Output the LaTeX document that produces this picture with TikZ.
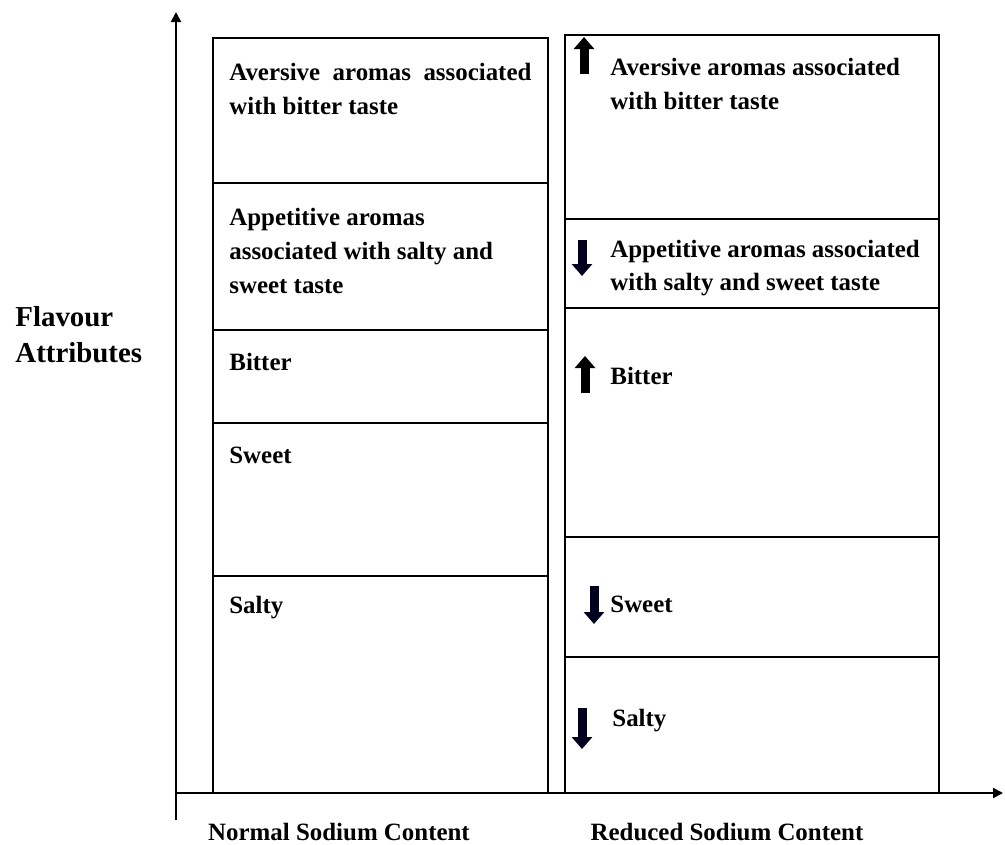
\documentclass[tikz,border=0pt]{standalone}
\usepackage{fontspec}
\setmainfont{Liberation Serif}
\usepackage{tikz}
\usetikzlibrary{arrows.meta,positioning,fit}

\begin{document}
\begin{tikzpicture}[
    x=0.5bp, y=-0.5bp,
    font=\fontsize{12.5}{17}\selectfont\bfseries,
    cell/.style={draw, line width=1.2bp, inner sep=0pt},
    label/.style={align=left, inner sep=0pt, anchor=west},
    axis/.style={line width=1bp, -{Triangle[length=5bp, width=5bp]}},
    rise/.style={line width=4.5bp, -{Triangle[length=6bp, width=10bp]}, black},
    fall/.style={line width=4.5bp, -{Triangle[length=6bp, width=10bp]}, black!70!blue!40!black}
  ]
    \useasboundingbox (0,0) rectangle (1005,845);

    \coordinate (ybot) at (176,820);
    \coordinate (ytop) at (176,12);
    \coordinate (origin) at (176,793);
    \coordinate (xend) at (1003,793);
    \draw[axis] (ybot) -- (ytop);
    \draw[axis] (origin) -- (xend);

    \node[cell, fit={(213,38)(548,183)}] (nAversive) {};
    \node[cell, fit={(213,183)(548,330)}] (nAppetitive) {};
    \node[cell, fit={(213,330)(548,423)}] (nBitter) {};
    \node[cell, fit={(213,423)(548,576)}] (nSweet) {};
    \node[cell, fit={(213,576)(548,793)}] (nSalty) {};

    \node[cell, fit={(565,35)(939,219)}] (rAversive) {};
    \node[cell, fit={(565,219)(939,308)}] (rAppetitive) {};
    \node[cell, fit={(565,308)(939,537)}] (rBitter) {};
    \node[cell, fit={(565,537)(939,657)}] (rSweet) {};
    \node[cell, fit={(565,657)(939,793)}] (rSalty) {};

    \node[label] (tnAversive) at (229,89) {Aversive\ \ aromas\ \ associated\\with bitter taste};
    \node[label] (tnAppetitive) at (229,251) {Appetitive aromas\\associated with salty and\\sweet taste};
    \node[label] (tnBitter) at (229,362) {Bitter};
    \node[label] (tnSweet) at (229,455) {Sweet};
    \node[label] (tnSalty) at (229,608) {Salty};

    \node[label] (trAversive) at (610,84) {Aversive aromas associated\\with bitter taste};
    \node[label] (trAppetitive) at (610,268) {Appetitive aromas associated\\with salty and sweet taste};
    \node[label] (trBitter) at (610,376) {Bitter};
    \node[label] (trSweet) at (610,604) {Sweet};
    \node[label] (trSalty) at (612,721) {Salty};

    \draw[rise] (584,74) -- (584,37);
    \draw[fall] (582,240) -- (582,276);
    \draw[rise] (585,393) -- (585,356);
    \draw[fall] (594,586) -- (594,624);
    \draw[fall] (582,708) -- (582,749);

    \node[label, font=\fontsize{14.5}{18}\selectfont\bfseries] (flavour) at (15,335) {Flavour\\Attributes};
    \node[inner sep=0pt] (normal) at (339,832) {Normal Sodium Content};
    \node[inner sep=0pt] (reduced) at (727,832) {Reduced Sodium Content};
  \end{tikzpicture}
\end{document}
